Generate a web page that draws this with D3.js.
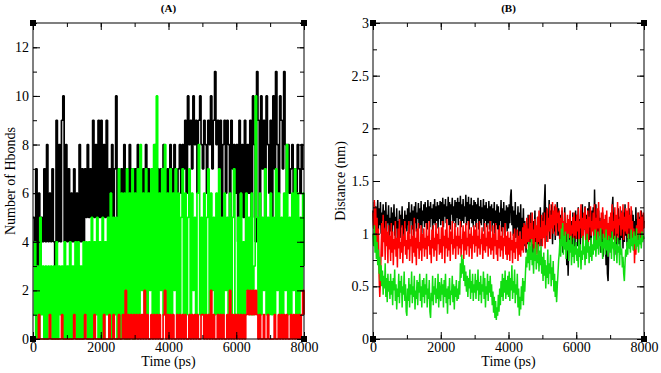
<!DOCTYPE html>
<html>
<head>
<meta charset="utf-8">
<script src="https://cdn.jsdelivr.net/npm/d3@7"></script>
<style>
  body { margin: 0; background: #fff; }
</style>
</head>
<body>
<svg id="chart" width="661" height="373"></svg>
<script>
// every series runs from 0 to 8000 ps, evenly spaced
const tEnd = 8000;
const serif = '"Liberation Serif", "Times New Roman", Tinos, "DejaVu Serif", serif';

// (A) number of hbonds, one value every 40 ps
const hbBlack = [5,3,7,3,6,3,5,4,7,4,8,4,6,4,7,4,3,9,4,8,4,9,10,4,8,
  4,7,4,6,4,7,4,6,4,8,4,7,4,7,5,8,5,7,5,9,5,8,5,9,5,
  9,5,8,5,9,5,7,5,8,5,7,10,5,7,5,7,5,8,5,7,5,8,5,7,5,
  7,6,8,5,7,6,7,5,8,6,7,6,5,7,6,8,6,7,5,7,6,8,7,6,7,
  6,8,7,6,8,7,6,7,8,6,8,7,9,6,10,8,9,7,10,8,9,6,9,10,8,
  7,9,8,6,9,8,10,7,9,11,8,9,7,9,5,8,9,6,9,8,4,9,7,8,6,
  8,4,9,6,8,5,9,3,8,6,9,5,10,8,4,11,9,5,10,7,9,4,10,8,6,
  9,5,10,7,11,8,6,10,9,7,11,8,6,8,6,7,8,6,7,6,8,7,6,8,7,
  7];
const hbGreen = [1,4,0,3,0,5,1,3,0,3,0,3,1,3,0,3,0,4,0,3,1,3,0,4,0,
  3,0,4,0,3,1,4,0,4,0,3,0,4,1,4,0,4,0,5,0,4,1,5,0,4,
  0,5,0,4,1,5,0,6,0,5,1,5,0,7,0,6,1,6,0,7,0,6,1,7,0,
  6,1,7,1,8,2,6,1,7,1,6,2,7,1,8,1,10,1,6,2,7,1,8,1,6,
  1,7,1,6,2,7,1,6,1,5,7,1,6,1,5,7,1,6,2,5,1,6,8,1,5,
  1,6,1,5,7,1,6,2,5,1,6,1,7,1,5,1,6,2,5,1,6,1,5,7,1,
  1,5,1,6,1,4,1,6,2,5,1,6,1,3,10,5,1,6,1,5,2,7,1,5,1,
  6,1,5,1,7,2,6,1,5,1,6,2,8,1,5,1,6,2,7,1,6,1,5,2,6,
  3];
const hbRed = [0,0,0,0,1,0,0,0,0,0,0,0,1,0,0,0,0,0,0,0,0,1,0,0,0,
  0,0,0,0,0,1,0,0,0,0,0,0,0,1,0,0,0,0,0,0,1,0,0,0,0,
  0,0,1,0,0,0,1,0,0,1,0,0,0,1,0,0,1,0,2,0,1,0,1,0,1,
  0,1,0,1,0,1,0,2,0,1,0,0,1,0,1,0,1,0,1,0,0,1,2,0,1,
  0,1,0,1,0,0,1,0,1,0,1,0,1,0,0,1,0,1,0,1,0,1,0,0,1,
  1,0,1,0,1,0,2,0,1,0,0,1,0,1,0,1,0,0,1,0,2,0,1,0,1,
  0,1,0,1,0,1,0,1,2,1,2,1,2,1,2,1,0,1,0,0,1,0,0,1,0,
  0,0,0,1,0,0,1,0,1,0,1,0,1,0,0,1,0,1,0,1,0,1,0,1,2,
  1];

// (B) distance in nm, one value every 20 ps
const distBlack = [1.22,1.05,1.30,1.10,1.26,0.98,1.18,1.32,1.04,1.24,1.08,1.30,1.00,1.20,1.12,1.28,0.96,1.22,1.06,1.30,1.02,1.18,1.10,1.27,0.98,
  1.15,1.02,1.25,0.95,1.20,1.08,1.28,0.98,1.16,1.05,1.24,0.94,1.12,1.02,1.22,0.96,1.18,1.06,1.26,0.92,1.14,1.00,1.22,1.05,1.18,
  1.02,1.24,1.08,1.30,1.00,1.20,1.12,1.28,1.04,1.22,0.98,1.26,1.10,1.30,1.02,1.20,1.14,1.29,1.05,1.24,1.08,1.31,1.00,1.22,1.12,
  1.28,1.06,1.30,1.10,1.25,1.04,1.32,1.12,1.26,1.06,1.30,1.14,1.24,1.02,1.28,1.10,1.33,1.08,1.26,1.12,1.30,1.05,1.27,1.14,1.31,
  1.08,1.30,1.12,1.34,1.06,1.28,1.16,1.33,1.10,1.26,1.14,1.35,1.08,1.30,1.04,1.28,1.18,1.34,1.10,1.26,1.12,1.32,1.06,1.30,1.15,
  1.34,1.08,1.30,1.14,1.36,1.06,1.28,1.12,1.33,1.10,1.26,1.16,1.37,1.08,1.30,1.12,1.35,1.04,1.28,1.14,1.34,1.10,1.27,1.06,1.32,
  1.12,1.30,1.06,1.28,1.14,1.34,1.04,1.26,1.10,1.32,1.08,1.25,1.14,1.33,1.02,1.27,1.12,1.30,1.06,1.24,1.10,1.31,1.04,1.26,1.12,
  1.28,1.02,1.24,1.10,1.30,1.00,1.22,1.08,1.28,1.04,1.26,0.98,1.20,1.12,1.32,1.02,1.24,1.06,1.30,0.98,1.22,1.10,1.27,1.02,1.25,
  1.05,1.28,1.10,1.35,1.42,1.08,1.26,0.98,1.22,1.04,1.30,0.96,1.18,1.06,1.26,0.94,1.20,1.02,1.28,0.92,1.15,1.00,1.24,0.88,1.12,
  0.98,0.82,1.10,0.90,1.18,0.80,1.05,0.92,1.20,0.85,1.08,0.78,1.12,0.95,1.22,0.86,1.04,0.90,1.16,0.82,1.10,0.96,1.25,0.88,1.15,
  0.95,1.20,1.05,1.30,1.47,1.02,1.25,0.92,1.18,1.06,1.32,0.95,1.22,1.08,1.28,0.90,1.16,1.02,1.26,0.94,1.20,1.10,1.30,0.98,1.24,
  1.05,0.88,1.18,0.95,1.22,0.82,1.10,0.98,1.25,0.85,1.05,0.70,0.95,0.60,0.88,1.02,1.18,0.90,1.12,0.84,1.20,0.92,1.15,0.86,1.22,
  0.95,1.18,0.88,1.25,1.02,1.14,0.85,1.22,0.96,1.28,0.90,1.12,1.04,1.26,0.92,1.18,0.86,1.24,1.00,1.30,0.94,1.16,0.88,1.22,1.05,
  1.25,0.92,1.42,1.05,1.28,0.95,1.18,0.86,1.22,1.00,1.15,0.82,1.08,0.92,1.20,0.78,1.10,0.88,1.02,0.70,0.95,0.62,0.55,0.85,1.05,
  0.92,1.18,0.85,1.25,1.35,0.95,1.20,0.88,1.15,0.80,1.10,0.98,1.24,0.90,1.16,0.84,1.22,0.96,1.12,0.86,1.20,0.92,1.28,0.98,1.14,
  0.88,1.20,0.95,1.24,0.86,1.15,1.00,1.22,0.90,1.18,0.84,1.12,0.96,1.25,0.92,1.14,0.88,1.20,1.02,1.16,0.90,1.22,0.98,1.18,1.05,
  1.12];
const distRed = [1.20,1.05,1.32,0.98,1.25,0.90,1.15,0.80,1.05,0.60,0.40,0.55,0.85,1.10,0.78,1.18,0.92,1.05,0.75,1.12,0.88,1.02,0.72,1.08,0.85,
  0.98,0.74,1.10,0.82,1.02,0.70,0.95,0.85,1.12,0.78,0.96,0.68,1.05,0.86,1.14,0.76,0.92,0.82,1.08,0.72,0.98,0.88,1.12,0.80,0.94,
  0.76,1.02,0.85,1.12,0.74,0.95,0.88,1.08,0.72,0.98,0.82,1.15,0.78,0.96,0.70,1.05,0.86,1.10,0.76,0.92,0.84,1.08,0.74,1.00,0.86,
  1.05,0.78,0.96,0.85,1.10,0.76,0.98,0.88,1.12,0.80,0.94,0.72,1.04,0.86,1.08,0.78,0.96,0.84,1.10,0.74,1.00,0.90,1.06,0.80,0.95,
  0.82,1.06,0.76,1.12,0.88,0.98,0.72,1.04,0.86,1.14,0.78,0.96,0.84,1.08,0.74,1.02,0.90,1.12,0.80,0.95,0.86,1.10,0.76,0.98,0.88,
  1.06,0.80,0.98,0.86,1.12,0.78,0.95,0.90,1.08,0.76,1.02,0.84,1.10,0.80,0.96,0.88,1.12,0.78,1.00,0.86,1.06,0.76,0.98,0.90,1.08,
  0.82,1.04,0.88,1.10,0.78,0.98,0.86,1.12,0.80,0.95,0.90,1.06,0.76,1.00,0.84,1.10,0.82,0.96,0.88,1.08,0.78,1.02,0.86,1.12,0.80,
  0.96,0.84,1.08,0.76,1.00,0.88,1.10,0.80,0.94,0.74,1.04,0.86,1.08,0.78,0.98,0.84,1.06,0.76,0.96,0.88,1.10,0.80,0.98,0.75,1.02,
  0.80,0.96,0.74,1.02,0.84,0.94,0.72,1.00,0.82,1.05,0.76,0.92,0.86,1.04,0.74,0.98,0.80,1.02,0.78,0.95,0.84,1.06,0.82,1.10,0.90,
  1.08,0.86,1.15,0.92,1.05,0.82,1.18,0.95,1.10,0.85,1.20,0.90,1.04,0.84,1.14,0.96,1.08,0.80,1.16,0.92,1.22,0.88,1.06,0.95,1.18,
  0.88,1.12,0.96,1.20,0.86,1.08,0.98,1.24,0.92,1.15,1.02,1.28,0.95,1.18,1.05,1.30,1.00,1.22,1.08,1.28,0.98,1.25,1.10,1.20,1.02,
  1.22,0.95,1.15,1.02,1.25,0.90,1.12,0.98,1.20,0.88,1.10,1.00,1.18,0.92,1.14,0.96,1.22,0.90,1.08,1.00,1.16,0.94,1.20,0.98,1.12,
  0.95,1.18,1.02,1.24,0.92,1.12,1.05,1.28,0.96,1.15,0.90,1.20,1.04,1.25,0.94,1.14,1.00,1.22,0.92,1.16,1.06,1.26,0.98,1.12,1.02,
  1.20,0.95,1.28,1.02,1.15,0.92,1.24,1.05,1.30,0.98,1.12,0.90,1.20,1.04,1.25,0.95,1.14,0.88,1.18,1.00,1.22,0.94,1.10,0.98,1.16,
  0.95,1.20,1.02,1.28,0.94,1.12,1.05,1.25,0.92,1.18,1.00,1.30,0.96,1.14,1.08,1.26,0.98,1.20,1.04,1.28,0.94,1.16,1.02,1.24,1.00,
  1.22,0.96,1.30,1.05,1.18,0.92,1.26,1.00,1.12,0.88,1.05,0.72,0.95,0.80,1.08,0.92,1.20,0.98,1.14,0.90,1.22,1.00,1.16,0.94,1.20,
  1.05];
const distGreen = [1.00,0.88,1.08,0.82,0.98,0.76,0.92,0.70,0.85,0.62,0.78,0.55,0.70,0.50,0.65,0.42,0.60,0.48,0.72,0.40,0.58,0.35,0.62,0.45,0.55,
  0.38,0.62,0.42,0.55,0.32,0.58,0.46,0.66,0.36,0.52,0.28,0.48,0.40,0.62,0.34,0.55,0.44,0.60,0.30,0.50,0.42,0.64,0.36,0.52,0.26,
  0.22,0.48,0.36,0.58,0.30,0.52,0.42,0.64,0.34,0.50,0.40,0.60,0.28,0.46,0.38,0.56,0.32,0.54,0.44,0.62,0.36,0.50,0.30,0.56,0.40,
  0.58,0.34,0.52,0.42,0.62,0.30,0.48,0.38,0.56,0.26,0.20,0.44,0.36,0.60,0.32,0.50,0.42,0.58,0.34,0.48,0.38,0.62,0.30,0.54,0.44,
  0.36,0.58,0.42,0.52,0.30,0.56,0.40,0.62,0.34,0.48,0.24,0.50,0.38,0.58,0.32,0.46,0.42,0.60,0.35,0.52,0.28,0.50,0.40,0.56,0.36,
  0.48,0.38,0.55,0.42,0.72,0.58,0.80,0.62,0.76,0.55,0.70,0.50,0.64,0.45,0.60,0.40,0.58,0.48,0.66,0.38,0.55,0.44,0.62,0.36,0.52,
  0.44,0.62,0.38,0.56,0.46,0.66,0.36,0.54,0.42,0.60,0.34,0.52,0.45,0.64,0.38,0.58,0.30,0.50,0.42,0.62,0.36,0.55,0.44,0.60,0.40,
  0.52,0.32,0.45,0.25,0.40,0.20,0.36,0.18,0.30,0.22,0.42,0.26,0.48,0.32,0.55,0.40,0.62,0.36,0.58,0.44,0.65,0.38,0.56,0.42,0.60,
  0.40,0.64,0.36,0.58,0.46,0.70,0.38,0.55,0.44,0.66,0.34,0.52,0.42,0.62,0.30,0.48,0.22,0.40,0.28,0.50,0.36,0.58,0.32,0.55,0.45,
  0.62,0.78,0.68,0.85,0.72,0.92,0.65,0.88,0.75,0.95,0.70,0.82,0.62,0.86,0.74,0.92,0.66,0.80,0.72,0.90,0.64,0.84,0.70,0.88,0.62,
  0.78,0.55,0.82,0.60,0.75,0.48,0.70,0.58,0.85,0.52,0.72,0.62,0.80,0.50,0.68,0.56,0.74,0.45,0.62,0.40,0.55,0.35,0.50,0.62,0.75,
  0.82,0.95,0.78,1.05,0.88,1.10,0.80,0.98,0.85,1.02,0.76,0.92,0.84,1.00,0.74,0.94,0.82,0.98,0.70,0.90,0.78,0.96,0.72,0.88,0.80,
  0.92,0.74,0.86,0.68,0.95,0.78,0.90,0.66,0.84,0.75,0.98,0.80,0.88,0.70,0.94,0.76,1.00,0.82,0.92,0.72,0.88,0.78,0.96,0.74,0.90,
  0.80,0.98,0.84,1.04,0.78,0.94,0.86,1.02,0.80,0.96,0.88,1.05,0.82,0.92,0.76,1.00,0.86,0.96,0.80,1.04,0.84,0.94,0.78,0.98,0.88,
  0.82,0.96,0.76,1.02,0.86,0.92,0.74,0.98,0.84,0.90,0.72,0.96,0.82,0.88,0.70,0.94,0.80,0.86,0.68,0.78,0.62,0.55,0.72,0.85,0.78,
  0.92,0.80,1.00,0.86,0.95,0.82,1.04,0.88,0.96,0.84,1.02,0.90,0.98,0.85,1.05,0.88,0.94,0.82,1.00,0.90,0.96,0.86,1.02,0.92,0.98,
  0.95];

const timeTicks = [0, 2000, 4000, 6000, 8000];
const hbTicks = [0, 2, 4, 6, 8, 10, 12];
const distTicks = [0, 0.5, 1, 1.5, 2, 2.5, 3];

const svg = d3.select('#chart');

function drawPanel(opt) {
  var x = d3.scaleLinear().domain([0, tEnd]).range([opt.left, opt.right]);
  var y = d3.scaleLinear().domain([0, opt.ymax]).range([opt.bottom, opt.top]);
  var g = svg.append('g');

  // series, first one goes under
  opt.series.forEach(s => {
    var dt = tEnd / (s.values.length - 1);
    var line = d3.line()
      .curve(opt.curve)
      .x((d, i) => x(i * dt))
      .y(d => y(d));
    g.append('path')
      .datum(s.values)
      .attr('fill', 'none')
      .attr('stroke', s.color)
      .attr('stroke-width', opt.lineWidth)
      .attr('stroke-linejoin', 'bevel')
      .attr('d', line);
  });

  // frame
  g.append('rect')
    .attr('x', opt.left).attr('y', opt.top)
    .attr('width', opt.right - opt.left).attr('height', opt.bottom - opt.top)
    .attr('fill', 'none').attr('stroke', '#000').attr('stroke-width', 1);

  var xMinor = d3.range(0, tEnd + 1, 1000);
  var yMinor = d3.range(0, opt.ymax + 1e-9, opt.yMinorStep);

  // bottom axis with labels
  g.append('g')
    .attr('transform', `translate(0, ${opt.bottom})`)
    .call(d3.axisBottom(x).tickValues(timeTicks).tickSizeInner(-7).tickSizeOuter(0).tickPadding(3).tickFormat(d3.format('d')));
  g.append('g')
    .attr('transform', `translate(0, ${opt.bottom})`)
    .call(d3.axisBottom(x).tickValues(xMinor).tickSizeInner(-4).tickSizeOuter(0).tickFormat(''));
  // top axis, ticks only
  g.append('g')
    .attr('transform', `translate(0, ${opt.top})`)
    .call(d3.axisTop(x).tickValues(timeTicks).tickSizeInner(-7).tickSizeOuter(0).tickFormat(''));
  g.append('g')
    .attr('transform', `translate(0, ${opt.top})`)
    .call(d3.axisTop(x).tickValues(xMinor).tickSizeInner(-4).tickSizeOuter(0).tickFormat(''));
  // left axis with labels
  g.append('g')
    .attr('transform', `translate(${opt.left}, 0)`)
    .call(d3.axisLeft(y).tickValues(opt.yTicks).tickSizeInner(-7).tickSizeOuter(0).tickPadding(4).tickFormat(d3.format('')));
  g.append('g')
    .attr('transform', `translate(${opt.left}, 0)`)
    .call(d3.axisLeft(y).tickValues(yMinor).tickSizeInner(-4).tickSizeOuter(0).tickFormat(''));
  // right axis, ticks only
  g.append('g')
    .attr('transform', `translate(${opt.right}, 0)`)
    .call(d3.axisRight(y).tickValues(opt.yTicks).tickSizeInner(-7).tickSizeOuter(0).tickFormat(''));
  g.append('g')
    .attr('transform', `translate(${opt.right}, 0)`)
    .call(d3.axisRight(y).tickValues(yMinor).tickSizeInner(-4).tickSizeOuter(0).tickFormat(''));

  g.selectAll('.domain').remove();
  g.selectAll('.tick line').attr('stroke', '#000');
  g.selectAll('.tick text')
    .style('font-family', serif).style('font-size', '14px')
    .attr('fill', '#000');

  // corner markers
  [[opt.left, opt.top], [opt.right, opt.top], [opt.left, opt.bottom], [opt.right, opt.bottom]].forEach(c => {
    g.append('rect')
      .attr('x', c[0] - 3).attr('y', c[1] - 3)
      .attr('width', 6).attr('height', 6)
      .attr('fill', '#000');
  });

  // title and axis labels
  g.append('text')
    .attr('x', (opt.left + opt.right) / 2).attr('y', 12)
    .attr('text-anchor', 'middle')
    .style('font-family', serif).style('font-size', '11px').style('font-weight', 'bold')
    .text(opt.title);
  g.append('text')
    .attr('x', (opt.left + opt.right) / 2).attr('y', 366)
    .attr('text-anchor', 'middle')
    .style('font-family', serif).style('font-size', '14px')
    .text('Time (ps)');
  g.append('text')
    .attr('transform', `translate(${opt.ylabelX}, ${(opt.top + opt.bottom) / 2}) rotate(-90)`)
    .attr('text-anchor', 'middle')
    .style('font-family', serif).style('font-size', '14px')
    .text(opt.ylabel);
}

drawPanel({
  left: 33, right: 304, top: 23, bottom: 339,
  ymax: 13, yTicks: hbTicks, yMinorStep: 1,
  title: '(A)', ylabel: 'Number of Hbonds', ylabelX: 15,
  curve: d3.curveStepAfter, lineWidth: 1.7,
  series: [
    { values: hbBlack, color: '#000000' },
    { values: hbGreen, color: '#00ff00' },
    { values: hbRed, color: '#ff0000' }
  ]
});

drawPanel({
  left: 373, right: 644, top: 23, bottom: 339,
  ymax: 3, yTicks: distTicks, yMinorStep: 0.25,
  title: '(B)', ylabel: 'Distance (nm)', ylabelX: 345,
  curve: d3.curveLinear, lineWidth: 1.5,
  series: [
    { values: distBlack, color: '#000000' },
    { values: distRed, color: '#ff0000' },
    { values: distGreen, color: '#11dd11' }
  ]
});
</script>
</body>
</html>
